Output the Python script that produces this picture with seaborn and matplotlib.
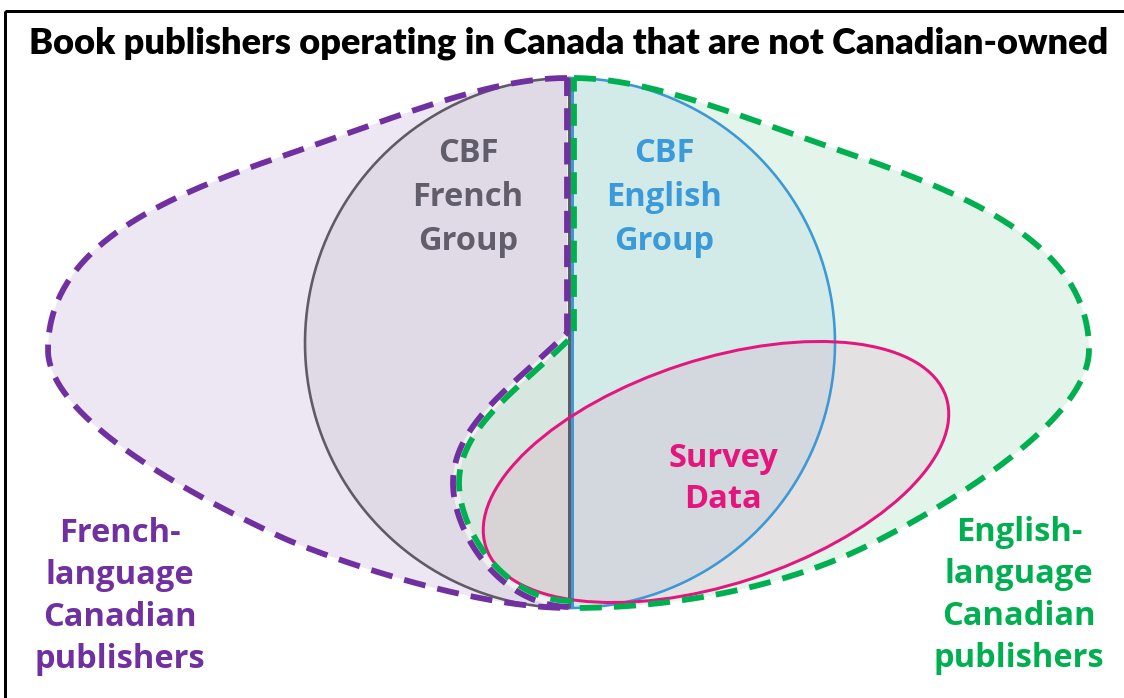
import numpy as np
import matplotlib
matplotlib.use("Agg")
import matplotlib.pyplot as plt
from matplotlib import font_manager
from matplotlib.patches import Ellipse, Rectangle
import seaborn as sns

# ---------------- content ----------------
TITLE = "Book publishers operating in Canada that are not Canadian-owned"
FRENCH_GROUP = ["CBF", "French", "Group"]
ENGLISH_GROUP = ["CBF", "English", "Group"]
SURVEY = ["Survey", "Data"]
FRENCH_PUB = ["French-", "language", "Canadian", "publishers"]
ENGLISH_PUB = ["English-", "language", "Canadian", "publishers"]

COL_PURPLE = "#7030a0"
COL_GREEN = "#00b050"
COL_GRAY = "#5f5a66"
COL_BLUE = "#3d98d6"
COL_PINK = "#e5157e"
FILL_PURPLE = "#ede7f4"
FILL_GREEN = "#e3f5eb"

sns.set_theme(style="white")
names = {f.name for f in font_manager.fontManager.ttflist}
BODY_FONT = ["Open Sans", "DejaVu Sans"] if "Open Sans" in names else ["DejaVu Sans"]
TITLE_FONT = (["Lato"] if "Lato" in names else []) + BODY_FONT
plt.rcParams["font.family"] = BODY_FONT

W, H = 1124, 698
fig = plt.figure(figsize=(W / 100, H / 100), dpi=100)
ax = fig.add_axes([0, 0, 1, 1])
ax.set_xlim(0, W)
ax.set_ylim(H, 0)
ax.axis("off")

PX = 0.72  # points per pixel


def bez(p0, p1, p2, p3, n=80):
    t = np.linspace(0, 1, n)[:, None]
    p0, p1, p2, p3 = (np.asarray(p, float) for p in (p0, p1, p2, p3))
    return (1 - t) ** 3 * p0 + 3 * (1 - t) ** 2 * t * p1 + 3 * (1 - t) * t ** 2 * p2 + t ** 3 * p3


CX, CY, R = 570, 343, 265

# ----- purple (French-language) outline -----
outer_left = np.vstack([
    bez((567, 78), (490, 78), (400, 116), (300, 150)),
    bez((300, 150), (170, 194), (48, 243), (48, 350)),
    bez((48, 350), (48, 413), (171, 486), (281, 537)),
    bez((281, 537), (318, 554), (467, 608), (570, 608)),
])
s_curve = np.vstack([
    bez((567, 333), (517, 383), (453, 423), (453, 483)),
    bez((453, 483), (453, 533), (500, 606), (570, 607)),
])
purple = np.vstack([outer_left, s_curve[::-1], [[567, 78]]])

# ----- green (English-language) outline -----
scale = (1089 - 570) / (570 - 48)
upper_right = np.vstack([
    bez((567, 78), (490, 78), (400, 116), (300, 150)),
    bez((300, 150), (170, 194), (48, 243), (48, 350)),
])
upper_right = np.column_stack([570 + (570 - upper_right[:, 0]) * scale, upper_right[:, 1]])
upper_right[0, 0] = 574
lower_right = np.vstack([
    bez((1089, 350), (1089, 410), (983, 487), (873, 543)),
    bez((873, 543), (793, 584), (683, 608), (573, 608)),
])
d = np.gradient(s_curve, axis=0)
d /= np.linalg.norm(d, axis=1)[:, None]
normal = np.column_stack([d[:, 1], -d[:, 0]])
s_green = s_curve + 6 * normal
green = np.vstack([upper_right, lower_right, s_green[::-1], [[574, 336], [574, 78]]])

ax.fill(purple[:, 0], purple[:, 1], color=FILL_PURPLE, lw=0, zorder=1)
ax.fill(green[:, 0], green[:, 1], color=FILL_GREEN, lw=0, zorder=1)

# ----- CBF circle -----
th_l = np.linspace(np.pi / 2, 3 * np.pi / 2, 200)
th_r = np.linspace(-np.pi / 2, np.pi / 2, 200)
lx, ly = CX + R * np.cos(th_l), CY + R * np.sin(th_l)
rx, ry = CX + R * np.cos(th_r), CY + R * np.sin(th_r)
ax.fill(lx, ly, color=COL_GRAY, alpha=0.09, lw=0, zorder=2)
ax.fill(rx, ry, color=COL_BLUE, alpha=0.10, lw=0, zorder=2)

# ----- Survey ellipse -----
ax.add_patch(Ellipse((716, 472), 484, 225, angle=-18, facecolor=COL_PINK, alpha=0.085,
                     edgecolor="none", zorder=3))
ax.add_patch(Ellipse((716, 472), 484, 225, angle=-18, facecolor="none",
                     edgecolor=COL_PINK, lw=3 * PX, zorder=5))

ax.plot(lx, ly, color=COL_GRAY, lw=2.6 * PX, zorder=4)
ax.plot(rx, ry, color=COL_BLUE, lw=2.6 * PX, zorder=4)
ax.plot([568.5, 568.5], [78, 608], color=COL_GRAY, lw=3 * PX, zorder=4, solid_capstyle="butt")
ax.plot([571.5, 571.5], [78, 608], color=COL_BLUE, lw=3 * PX, zorder=4, solid_capstyle="butt")

dash = (0, (3.8, 2.1))
ax.plot(purple[:, 0], purple[:, 1], color=COL_PURPLE, lw=5.8 * PX, ls=dash,
        dash_capstyle="butt", zorder=6)
ax.plot(green[:, 0], green[:, 1], color=COL_GREEN, lw=5.8 * PX, ls=dash,
        dash_capstyle="butt", zorder=6)

# ----- frame -----
ax.add_patch(Rectangle((5, 11), 1300, 900, fill=False, edgecolor="black", lw=3 * PX, zorder=10))

# ----- text -----
renderer = fig.canvas.get_renderer()
title = ax.text(569, 54, TITLE, ha="center", va="baseline", fontsize=24, fontweight="heavy",
                color="black", family=TITLE_FONT, zorder=11)
bb = title.get_window_extent(renderer)
title.set_fontsize(24 * 1082 / bb.width)

LAB = 23.5


def stack(lines, x, y0, step, color):
    for i, s in enumerate(lines):
        ax.text(x, y0 + i * step, s, ha="center", va="baseline", fontsize=LAB,
                fontweight="bold", color=color, zorder=11)


stack(FRENCH_GROUP, 468, 162, 44, "#625d6b")
stack(ENGLISH_GROUP, 664, 162, 44, "#3b9ad9")
stack(SURVEY, 723, 467, 41, "#e4157d")
stack(FRENCH_PUB, 120, 542, 42, COL_PURPLE)
stack(ENGLISH_PUB, 1019, 541, 42, COL_GREEN)

fig.savefig("out.png", dpi=100)
